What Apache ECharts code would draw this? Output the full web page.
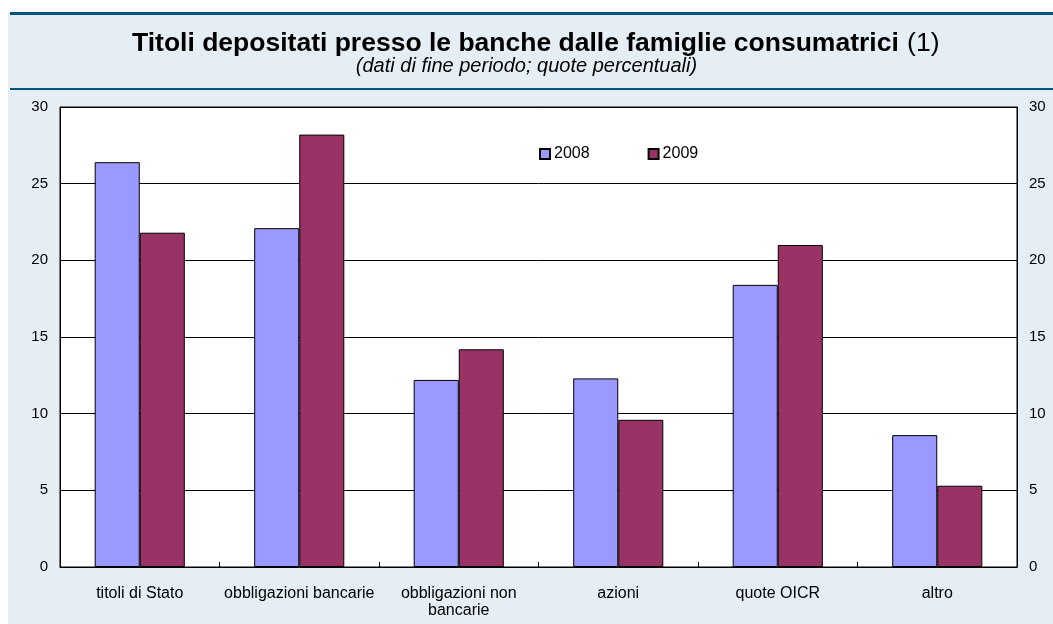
<!DOCTYPE html>
<html>
<head>
<meta charset="utf-8">
<style>
  html, body { margin: 0; padding: 0; background: #ffffff; }
  #chart { width: 1053px; height: 624px; }
</style>
<script src="https://cdn.jsdelivr.net/npm/echarts@6/dist/echarts.min.js"></script>
</head>
<body>
<div id="chart"></div>
<script>
// Securities held at banks by consumer households, end-of-period shares (%)
var categories = ['titoli di Stato', 'obbligazioni bancarie', 'obbligazioni non\nbancarie', 'azioni', 'quote OICR', 'altro'];
var seriesNames = ['2008', '2009'];
var values2008 = [26.4, 22.1, 12.2, 12.3, 18.4, 8.6];
var values2009 = [21.8, 28.2, 14.2, 9.6, 21.0, 5.3];
var yTicks = { min: 0, max: 30, interval: 5 };

var chart = echarts.init(document.getElementById('chart'), null, { renderer: 'canvas' });

var barColors = ['#9999FF', '#993366'];
var fontFamily = '"Liberation Sans", Arial, sans-serif';

function yAxis(position) {
  return {
    type: 'value',
    position: position,
    min: yTicks.min,
    max: yTicks.max,
    interval: yTicks.interval,
    axisLine: { show: true, lineStyle: { color: '#000000', width: 1 } },
    axisTick: { show: false },
    axisLabel: { color: '#000000', fontSize: 15, fontFamily: fontFamily, margin: 12 },
    splitLine: { show: position === 'left', lineStyle: { color: '#000000', width: 1 } }
  };
}

chart.setOption({
  animation: false,
  backgroundColor: '#ffffff',
  graphic: [
    { type: 'rect', shape: { x: 8, y: 13, width: 1045, height: 611 }, style: { fill: '#E6EEF5' }, z: -10 },
    { type: 'rect', shape: { x: 10, y: 12, width: 1043, height: 3 }, style: { fill: '#00557A' }, z: -5 },
    { type: 'rect', shape: { x: 10, y: 88, width: 1043, height: 2 }, style: { fill: '#00557A' }, z: -5 },
    {
      type: 'text', left: 132, top: 30,
      style: {
        text: '{b|Titoli depositati presso le banche dalle famiglie consumatrici} {n|(1)}',
        rich: {
          b: { fontSize: 26.5, fontWeight: 'bold', fontFamily: fontFamily, fill: '#000000' },
          n: { fontSize: 26.5, fontFamily: fontFamily, fill: '#000000', padding: [0, 0, 0, 5] }
        }
      }
    },
    {
      type: 'text', left: 'center', top: 56,
      style: { text: '(dati di fine periodo; quote percentuali)', fontSize: 20, fontStyle: 'italic', fontFamily: fontFamily, fill: '#000000' }
    }
  ],
  grid: {
    left: 60, right: 36, top: 107, bottom: 57,
    show: true, backgroundColor: '#ffffff', borderColor: '#000000', borderWidth: 1,
    containLabel: false
  },
  legend: {
    data: seriesNames,
    left: 534, top: 141,
    itemWidth: 10, itemHeight: 10, itemGap: 58,
    textStyle: { fontSize: 16, fontFamily: fontFamily, color: '#000000', padding: [0, 0, 0, -1] },
    icon: 'rect'
  },
  xAxis: {
    type: 'category',
    data: categories,
    axisLine: { show: true, lineStyle: { color: '#000000', width: 1 } },
    axisTick: { show: true, inside: true, length: 5, lineStyle: { color: '#000000' } },
    axisLabel: { color: '#000000', fontSize: 16, fontFamily: fontFamily, margin: 18, lineHeight: 17, interval: 0 },
    splitLine: { show: false }
  },
  yAxis: [yAxis('left'), yAxis('right')],
  series: [
    {
      name: seriesNames[0], type: 'bar', data: values2008,
      barGap: '0%', barCategoryGap: '43.5%',
      itemStyle: { color: barColors[0], borderColor: '#000000', borderWidth: 1 }
    },
    {
      name: seriesNames[1], type: 'bar', data: values2009,
      itemStyle: { color: barColors[1], borderColor: '#000000', borderWidth: 1 }
    }
  ]
});
</script>
</body>
</html>
